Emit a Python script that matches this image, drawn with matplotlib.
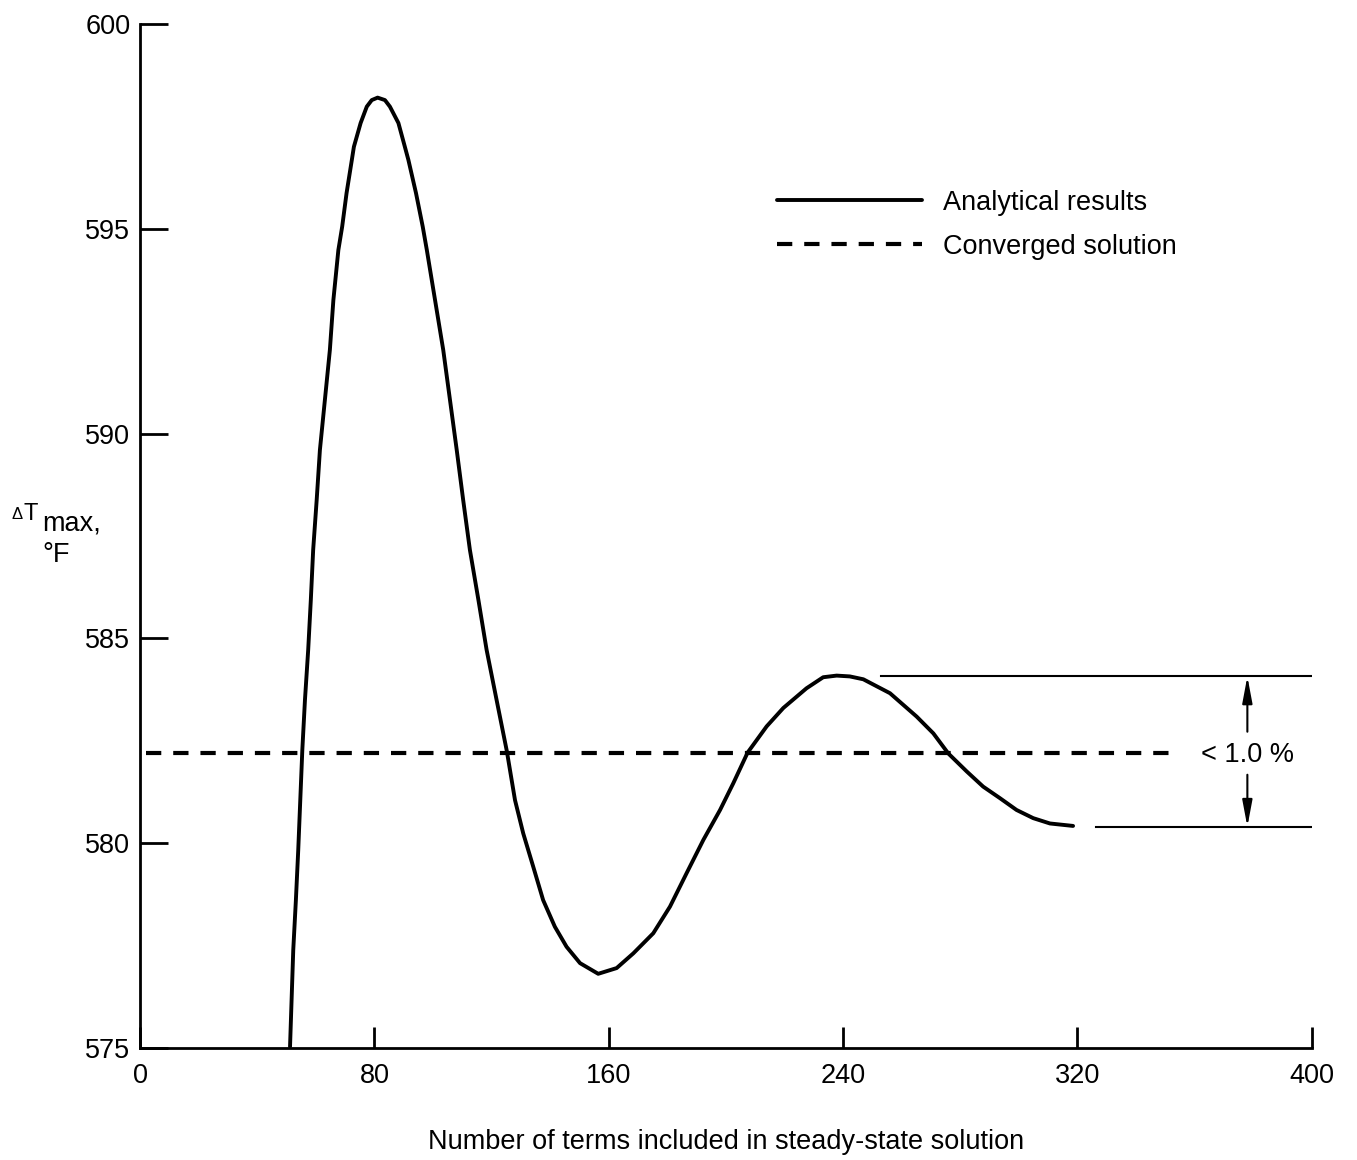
import numpy as np
import matplotlib
matplotlib.use("Agg")
import matplotlib.pyplot as plt

plt.rcParams['font.family'] = ['Liberation Sans', 'DejaVu Sans']
plt.rcParams['lines.scale_dashes'] = False

# analytical max temperature difference vs. number of series terms
n_terms = [51.2, 52.3, 53.2, 54.0, 55.4, 56.3, 57.4, 58.3, 59.1, 60.3, 61.4,
           63.1, 64.8, 66.0, 67.7, 69.0, 70.5, 72.3, 73.0, 75.3, 77.4, 79.1,
           81.1, 83.6, 85.3, 88.2, 90.4, 91.6, 94.2, 96.5, 97.9, 100.7, 103.5,
           105.8, 108.1, 110.3, 112.6, 115.5, 118.3, 121.7, 125.2, 128.0,
           130.8, 134.2, 137.6, 141.6, 145.6, 150.2, 156.4, 162.7, 168.4,
           175.2, 180.9, 186.6, 192.3, 198.0, 202.5, 207.4, 213.9, 219.6,
           227.5, 233.2, 237.8, 242.3, 246.9, 256.0, 265.1, 270.8, 275.9,
           282.2, 287.8, 293.5, 299.2, 304.9, 310.6, 318.5]
dt_max = [575.03, 577.39, 578.61, 579.83, 582.28, 583.50, 584.72, 585.94,
          587.16, 588.38, 589.60, 590.82, 592.04, 593.26, 594.48, 595.05,
          595.87, 596.68, 597.00, 597.58, 597.98, 598.14, 598.20, 598.14,
          597.98, 597.58, 597.00, 596.68, 595.87, 595.05, 594.48, 593.26,
          592.04, 590.82, 589.60, 588.38, 587.16, 585.94, 584.72, 583.50,
          582.25, 581.05, 580.24, 579.43, 578.61, 577.96, 577.47, 577.07,
          576.81, 576.95, 577.31, 577.80, 578.45, 579.27, 580.08, 580.81,
          581.46, 582.21, 582.85, 583.30, 583.78, 584.05, 584.09, 584.07,
          584.00, 583.66, 583.09, 582.68, 582.19, 581.75, 581.38, 581.10,
          580.81, 580.61, 580.48, 580.42]

converged = 582.2
band_hi = 584.07
band_lo = 580.40

fig = plt.figure(figsize=(13.57, 11.6), dpi=100)
ax = fig.add_axes([0.1032, 0.0966, 0.8635, 0.8828])

ax.plot(n_terms, dt_max, color='black', lw=2.8, solid_capstyle='round',
        solid_joinstyle='round', label='Analytical results')
ax.plot([2, 354], [converged, converged], color='black', lw=3.0,
        dashes=(11, 8.6), label='Converged solution')

# bracket showing the spread of the last oscillation
ax.plot([253.1, 400], [band_hi, band_hi], color='black', lw=1.5)
ax.plot([326.3, 400], [band_lo, band_lo], color='black', lw=1.5)
arrow = dict(arrowstyle='-|>,head_length=1.6,head_width=0.3', color='black',
             lw=1.5, shrinkA=0, shrinkB=0, mutation_scale=10)
ax.annotate('', xy=(378, band_hi), xytext=(378, 582.72), arrowprops=arrow)
ax.annotate('', xy=(378, band_lo), xytext=(378, 581.67), arrowprops=arrow)
ax.text(378, 582.15, '< 1.0 %', fontsize=19.5, ha='center', va='center')

ax.set_xlim(0, 400)
ax.set_ylim(575, 600)
ax.set_xticks([0, 80, 160, 240, 320, 400])
ax.set_yticks([575, 580, 585, 590, 595, 600])
ax.tick_params(axis='y', direction='in', length=20, width=2, pad=7, labelsize=19.5)
ax.tick_params(axis='x', direction='in', length=15, width=2, pad=11, labelsize=19.5)
for side in ['top', 'right']:
    ax.spines[side].set_visible(False)
for side in ['left', 'bottom']:
    ax.spines[side].set_linewidth(2)

ax.set_xlabel('Number of terms included in steady-state solution',
              fontsize=19.5, labelpad=29)

W, H = 1357, 1160
fig.text(11 / W, 1 - 519 / H, '\u0394', fontsize=12, ha='left', va='baseline')
fig.text(23 / W, 1 - 520 / H, 'T', fontsize=17, ha='left', va='baseline')
fig.text(42 / W, 1 - 530 / H, 'max,', fontsize=19.5, ha='left', va='baseline')
fig.text(42 / W, 1 - 562 / H, '\u00b0F', fontsize=19.5, ha='left', va='baseline')

ax.legend(loc='upper left', bbox_to_anchor=(0.5434, 0.838), frameon=False,
          fontsize=19.5, handlelength=5.37, handletextpad=0.78, labelspacing=0.66,
          borderpad=0, borderaxespad=0)

fig.savefig('out.png', dpi=100)
